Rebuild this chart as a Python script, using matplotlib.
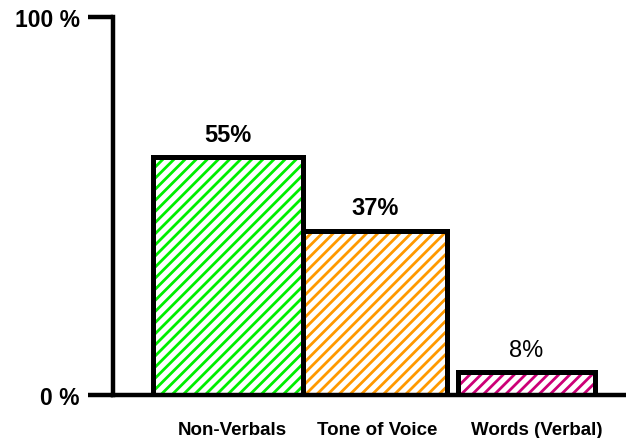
import matplotlib.pyplot as plt
import numpy as np

categories = ["Non-Verbals", "Tone of Voice", "Words (Verbal)"]
bar_heights = [63, 43.5, 6]          # heights as drawn against the 0-100 % axis
value_labels = ["55%", "37%", "8%"]
colors = ["#00ee00", "#ff9900", "#cc0077"]

plt.rcParams['font.family'] = ['Liberation Sans', 'DejaVu Sans']
plt.rcParams['hatch.linewidth'] = 2.0

fig = plt.figure(figsize=(6.26, 4.39), dpi=100)
ax = fig.add_axes([113 / 626, 1 - 396 / 439, 1 - 113 / 626, (396 - 18) / 439])

x = np.array([0, 1, 2])
widths = [1.015, 0.98, 0.93]
offsets = [0, -0.005, 0.02]
pos = x + np.array(offsets)

# hatched fill first, then the black outline on top
ax.bar(pos, bar_heights, width=widths, color="white", edgecolor=colors,
       hatch="///", linewidth=0)
ax.bar(pos, bar_heights, width=widths, facecolor="none", edgecolor="black",
       linewidth=3.6)

for xi, h, lab in zip(pos, bar_heights, value_labels):
    ax.annotate(lab, (xi, h), xytext=(0, 8), textcoords="offset points",
                ha="center", va="bottom", fontsize=17,
                fontweight="bold" if lab != "8%" else "normal")

ax.set_xlim(-0.778, 2.694)
ax.set_ylim(0, 100)

for s in ["top", "right"]:
    ax.spines[s].set_visible(False)
for s in ["left", "bottom"]:
    ax.spines[s].set_linewidth(3.2)

ax.set_yticks([0, 100])
ax.set_yticklabels(["0 %", "100 %"], fontsize=16.5, fontweight="bold")
ax.tick_params(axis="y", length=18, width=3.2, pad=6)

ax.set_xticks(x + np.array([0.03, 0.01, 0.09]))
ax.set_xticklabels(categories, fontsize=13.5, fontweight="bold")
ax.tick_params(axis="x", length=0, pad=19)

fig.savefig("out.png", dpi=100)
